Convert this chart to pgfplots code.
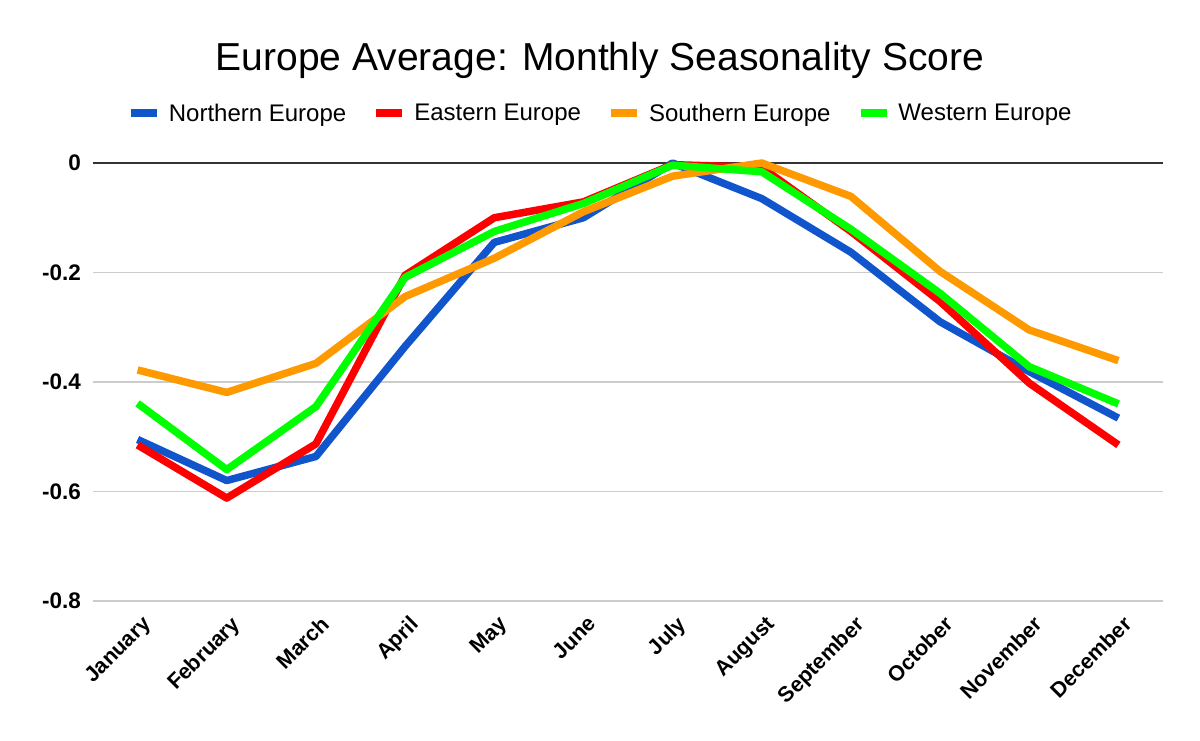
\documentclass[border=0pt]{standalone}
\usepackage{pgfplots}
\pgfplotsset{compat=1.18}
\usepackage{fontspec}
\setmainfont{Liberation Sans}
\definecolor{cN}{HTML}{1155CC}
\definecolor{cE}{HTML}{FF0000}
\definecolor{cS}{HTML}{FF9900}
\definecolor{cW}{HTML}{00FF00}
\definecolor{gridc}{HTML}{CCCCCC}
\definecolor{zeroc}{HTML}{333333}
\begin{document}
\begin{tikzpicture}[x=1bp,y=1bp]
\useasboundingbox (-93bp,-140bp) rectangle (1107bp,601bp);
\begin{axis}[
  at={(0,0)}, anchor=south west,
  scale only axis, width=1070bp, height=438bp,
  xmin=-0.5, xmax=11.5, ymin=-0.8, ymax=0,
  clip=false,
  axis line style={draw=none},
  major tick length=0pt,
  xtick={0,...,11},
  xticklabels={January,February,March,April,May,June,July,August,September,October,November,December},
  xticklabel style={rotate=45, anchor=north east, inner sep=0pt, xshift=-7bp, yshift=-12bp, font=\fontsize{21.5bp}{24bp}\selectfont\bfseries},
  ytick={-0.8,-0.6,-0.4,-0.2},
  yticklabels={-0.8,-0.6,-0.4,-0.2},
  extra y ticks={0},
  extra y tick labels={0},
  extra y tick style={grid style={color=zeroc, line width=2bp}},
  yticklabel style={anchor=east, inner sep=0pt, xshift=-12bp, font=\fontsize{22.5bp}{25bp}\selectfont\bfseries},
  ymajorgrids,
  grid style={color=gridc, line width=1.5bp},
  legend columns=4,
  legend style={draw=none, fill=none, at={(axis description cs:0.474,1.114)}, anchor=center,
    font=\fontsize{24bp}{27bp}\selectfont,
    /tikz/every odd column/.append style={column sep=6bp},
    /tikz/every even column/.append style={column sep=24bp}},
  legend image code/.code={\draw[line width=8bp] (0bp,0bp) -- (26bp,0bp);},
  every axis plot/.append style={line width=7.5bp, line join=round},
]
\addplot[cN] coordinates {(0,-0.505) (1,-0.580) (2,-0.536) (3,-0.335) (4,-0.145) (5,-0.100) (6,0.000) (7,-0.065) (8,-0.163) (9,-0.290) (10,-0.381) (11,-0.466)};
\addlegendentry{Northern Europe}
\addplot[cE] coordinates {(0,-0.515) (1,-0.612) (2,-0.513) (3,-0.205) (4,-0.100) (5,-0.071) (6,-0.003) (7,-0.008) (8,-0.125) (9,-0.253) (10,-0.402) (11,-0.515)};
\addlegendentry{Eastern Europe}
\addplot[cS] coordinates {(0,-0.378) (1,-0.419) (2,-0.366) (3,-0.244) (4,-0.174) (5,-0.089) (6,-0.024) (7,0.000) (8,-0.061) (9,-0.198) (10,-0.305) (11,-0.361)};
\addlegendentry{Southern Europe}
\addplot[cW] coordinates {(0,-0.439) (1,-0.560) (2,-0.445) (3,-0.209) (4,-0.125) (5,-0.074) (6,-0.004) (7,-0.016) (8,-0.121) (9,-0.238) (10,-0.372) (11,-0.440)};
\addlegendentry{Western Europe}
\end{axis}
\node[anchor=base, inner sep=0pt, font=\fontsize{39bp}{44bp}\selectfont] at (507bp,530bp) {Europe Average: Monthly Seasonality Score};
\end{tikzpicture}
\end{document}
